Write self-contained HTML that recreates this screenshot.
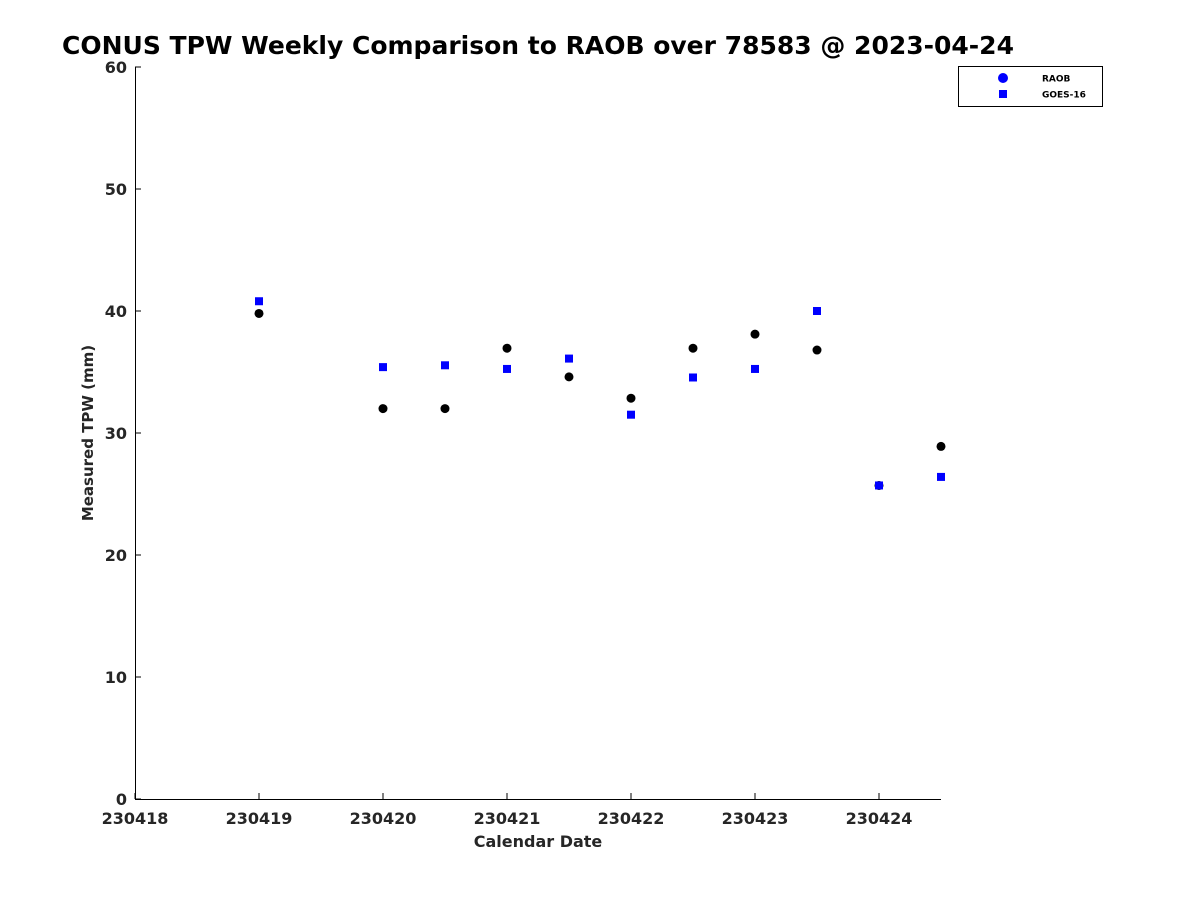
<!DOCTYPE html>
<html><head><meta charset="utf-8"><style>
body{margin:0;background:#fff;}
svg{display:block;font-family:"DejaVu Sans","Liberation Sans",sans-serif;}
</style></head><body>
<svg id="chart" width="1200" height="900">
<text x="62" y="54" font-size="25" font-weight="bold" fill="#000">CONUS TPW Weekly Comparison to RAOB over 78583 @ 2023-04-24</text>
<g id="axes"></g>
<g id="marks"></g>
<g>
<rect x="958.5" y="66.5" width="144" height="40" fill="#fff" stroke="#000" stroke-width="1"/>
<circle cx="1003" cy="78" r="5" fill="#0000ff"/>
<text x="1042" y="81.5" font-size="9" font-weight="bold">RAOB</text>
<rect x="999" y="90" width="8" height="8" fill="#0000ff"/>
<text x="1042" y="97.5" font-size="9" font-weight="bold">GOES-16</text>
</g>
</svg>
<script>
const xTicks = [230418,230419,230420,230421,230422,230423,230424];
const yTicks = [0,10,20,30,40,50,60];
const dates = [230419,230420,230420.5,230421,230421.5,230422,230422.5,230423,230423.5,230424,230424.5];
const raob = [39.8,32.0,32.0,36.95,34.6,32.85,36.95,38.1,36.8,25.7,28.9];
const goes = [40.8,35.4,35.55,35.25,36.1,31.5,34.55,35.25,40.0,25.7,26.4];
const NS='http://www.w3.org/2000/svg';
const X0=135,X1=941,Y0=799,Y1=67, xmin=230418,xmax=230424.5,ymin=0,ymax=60;
function sx(v){return X0+(v-xmin)/(xmax-xmin)*(X1-X0);}
function sy(v){return Y0-(v-ymin)/(ymax-ymin)*(Y0-Y1);}
function mk(t,a,p){const e=document.createElementNS(NS,t);for(const k in a)e.setAttribute(k,a[k]);p.appendChild(e);return e;}
const ax=document.getElementById('axes'), mg=document.getElementById('marks');
let l=mk('line',{x1:X0,y1:Y0+0.5,x2:X1,y2:Y0+0.5,stroke:'#000'},ax);


l=mk('line',{x1:X0+0.5,y1:Y0,x2:X0+0.5,y2:Y1,stroke:'#000'},ax);


xTicks.forEach(v=>{const x=sx(v);
 mk('line',{x1:x,y1:Y0,x2:x,y2:Y0-6,stroke:'#000'},ax);
 const t=mk('text',{x:x,y:Y0+25,'font-size':16,'font-weight':'bold','text-anchor':'middle',fill:'#262626'},ax);t.textContent=v;
 
 });
yTicks.forEach(v=>{const y=sy(v);
 mk('line',{x1:X0,y1:y,x2:X0+6,y2:y,stroke:'#000'},ax);
 const t=mk('text',{x:X0-8,y:y+6,'font-size':16,'font-weight':'bold','text-anchor':'end',fill:'#262626'},ax);t.textContent=v;
 
 });
let t=mk('text',{x:538,y:847,'font-size':16,'font-weight':'bold','text-anchor':'middle',fill:'#262626'},ax);t.textContent='Calendar Date';


t=mk('text',{x:93,y:433,'font-size':15,'font-weight':'bold','text-anchor':'middle',fill:'#262626',transform:'rotate(-90 93 433)'},ax);t.textContent='Measured TPW (mm)';


dates.forEach((d,i)=>{
 const c=mk('circle',{cx:sx(d),cy:sy(raob[i]),r:4.5,fill:'#000'},mg);
 
 
});
dates.forEach((d,i)=>{
 const r=mk('rect',{x:sx(d)-4,y:sy(goes[i])-4,width:8,height:8,fill:'#0000ff'},mg);
 
 
});
</script>
</body></html>
